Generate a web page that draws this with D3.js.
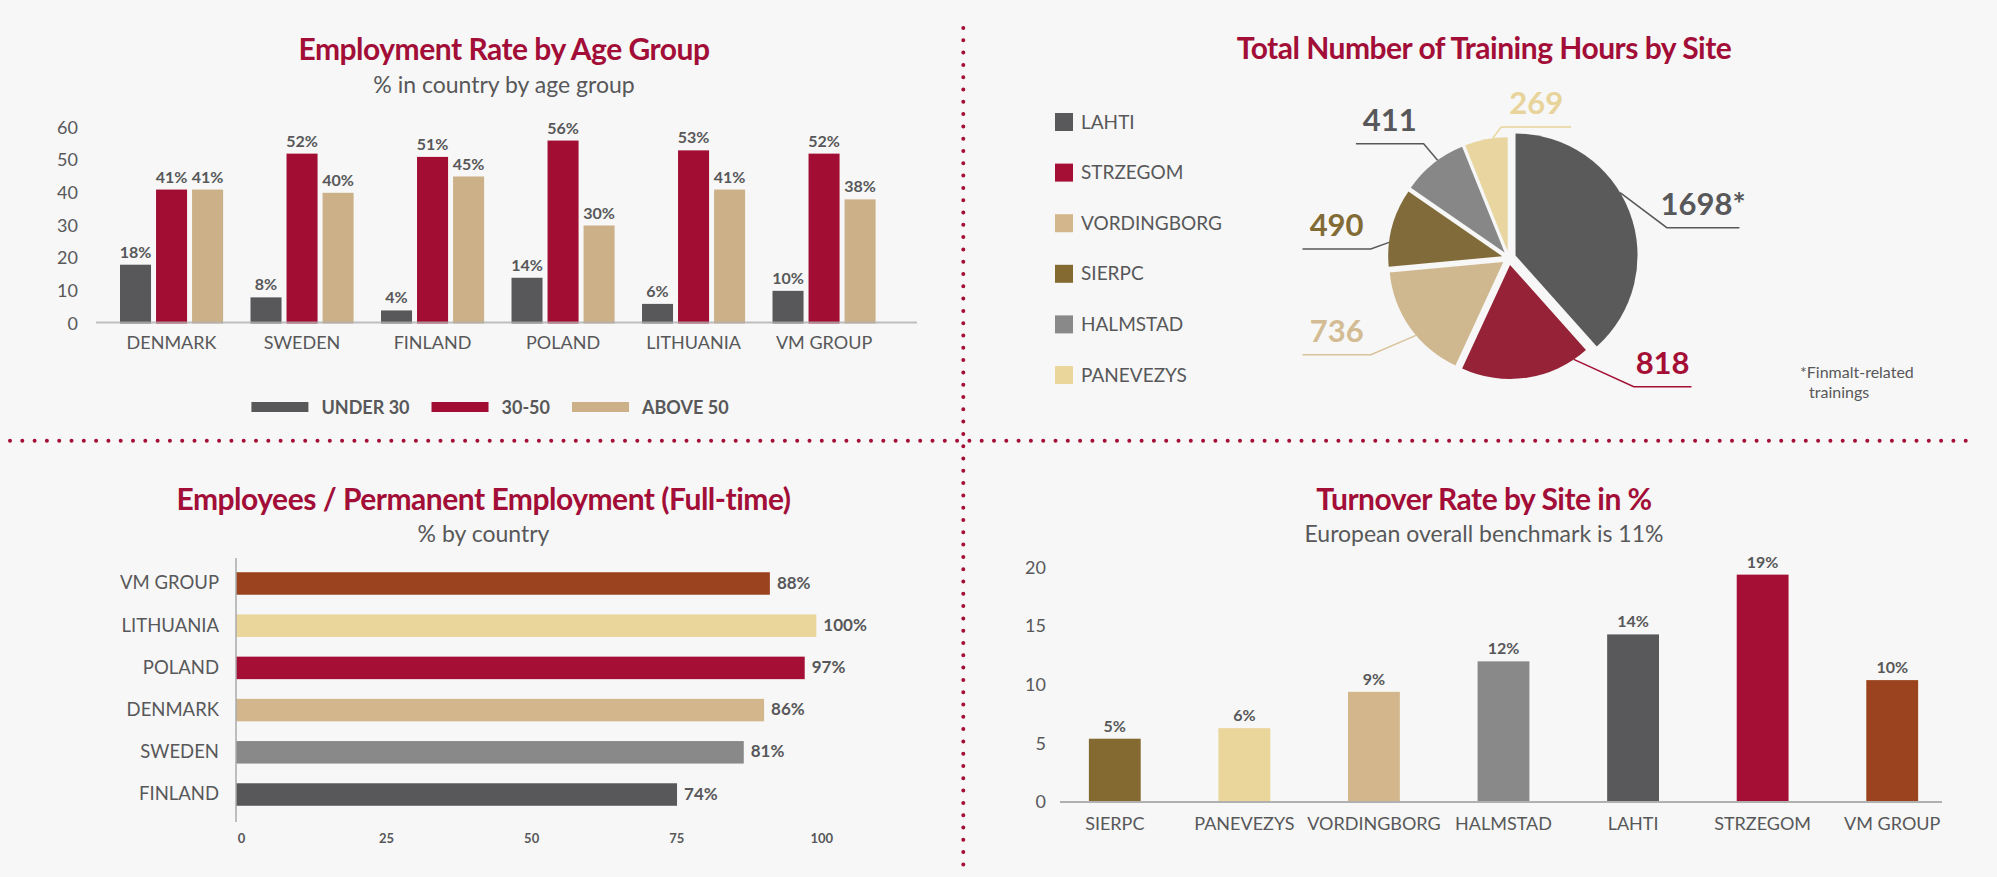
<!DOCTYPE html>
<html>
<head>
<meta charset="utf-8">
<script src="https://cdnjs.cloudflare.com/ajax/libs/d3/7.8.5/d3.min.js"></script>
<style>
body{margin:0;background:#f6f7f6;}
svg{display:block;font-family:Lato,"Open Sans",sans-serif;}
.title{font-weight:700;fill:#a20e37;letter-spacing:-0.5px;}
.sub{font-weight:400;fill:#58585a;}
</style>
</head>
<body>
<svg id="chart"></svg>
<script>
// Employment rate by age group
var countries=["DENMARK","SWEDEN","FINLAND","POLAND","LITHUANIA","VM GROUP"]
var ageGroups=["UNDER 30","30-50","ABOVE 50"]
var under30=[18,8,4,14,6,10]
var age30to50=[41,52,51,56,53,52]
var above50=[41,40,45,30,41,38]
var ageTicks=[0,10,20,30,40,50,60]

// training hours by site
var sites=["LAHTI","STRZEGOM","VORDINGBORG","SIERPC","HALMSTAD","PANEVEZYS"]
var trainingHours=[1698,818,736,490,411,269]
var hourLabels=["1698*","818","736","490","411","269"]

// permanent employment (bar lengths as drawn, labels as printed)
var permCountries=["VM GROUP","LITHUANIA","POLAND","DENMARK","SWEDEN","FINLAND"]
var permValues=[92,100,98,91,87.5,76]
var permLabels=["88%","100%","97%","86%","81%","74%"]
var permTicks=[0,25,50,75,100]

// turnover rate
var turnoverSites=["SIERPC","PANEVEZYS","VORDINGBORG","HALMSTAD","LAHTI","STRZEGOM","VM GROUP"]
var turnoverValues=[5.4,6.3,9.4,12,14.3,19.4,10.4]
var turnoverTicks=[0,5,10,15,20]

var textGray="#58585a"
var crimson="#a20d33"
var siteColors={"LAHTI":"#59595b","STRZEGOM":"#a50e35","VORDINGBORG":"#d3b68b","SIERPC":"#846a31",
  "HALMSTAD":"#898989","PANEVEZYS":"#ead59a","VM GROUP":"#9b431e"}
var countryColors={"VM GROUP":"#9b431e","LITHUANIA":"#ead59a","POLAND":"#a50e35","DENMARK":"#d3b68b",
  "SWEDEN":"#898989","FINLAND":"#58585a"}
var ageColors=["#58585a",crimson,"#cbb088"]

var svg=d3.select("#chart").attr("width",1997).attr("height",877)

svg.append("rect").attr("width",1997).attr("height",877).attr("fill","#f6f7f6")

//dotted dividers
svg.append("line").attr("x1",10).attr("x2",1975).attr("y1",440.7).attr("y2",440.7)
  .attr("stroke","#a50e35").attr("stroke-width",4).attr("stroke-linecap","round")
  .attr("stroke-dasharray","0,12.3")
svg.append("line").attr("x1",963.3).attr("x2",963.3).attr("y1",28).attr("y2",866)
  .attr("stroke","#a50e35").attr("stroke-width",4).attr("stroke-linecap","round")
  .attr("stroke-dasharray","0,12.3")

var addTitle=function(cx,y,title,sub,subY){
  svg.append("text").attr("class","title").attr("x",cx).attr("y",y)
    .attr("text-anchor","middle").style("font-size","30px").text(title)
  if(sub){
    svg.append("text").attr("class","sub").attr("x",cx).attr("y",subY)
      .attr("text-anchor","middle").style("font-size","23px").text(sub)
  }
}

var styleAxis=function(g,size,weight){
  g.select(".domain").remove()
  g.selectAll("text").style("font-size",size).style("font-weight",weight)
    .style("font-family","Lato, sans-serif").attr("fill",textGray)
}

//----- chart 1: grouped bars
var drawAgeChart=function(){
  addTitle(504,60,"Employment Rate by Age Group","% in country by age group",93)
  var series=[under30,age30to50,above50]
  var rows=countries.map(function(c,i){
    return {country:c,values:series.map(function(s,j){return {group:ageGroups[j],value:s[i],k:j}})}
  })
  var x0=d3.scaleBand().domain(countries).range([106.3,889.3]).paddingInner(0.21).paddingOuter(0.105)
  var x1=d3.scaleBand().domain(ageGroups).range([0,x0.bandwidth()]).paddingInner(0.139)
  var y=d3.scaleLinear().domain([0,60]).range([323.5,127.5])

  var g=svg.append("g")
  var grp=g.selectAll(".grp").data(rows).enter().append("g")
    .attr("transform",function(d){return "translate("+x0(d.country)+",0)"})
  grp.selectAll("rect").data(function(d){return d.values}).enter().append("rect")
    .attr("x",function(d){return x1(d.group)})
    .attr("width",x1.bandwidth())
    .attr("y",function(d){return y(d.value)})
    .attr("height",function(d){return y(0)-y(d.value)})
    .attr("fill",function(d){return ageColors[d.k]})
  grp.selectAll(".lbl").data(function(d){return d.values}).enter().append("text")
    .attr("x",function(d){return x1(d.group)+x1.bandwidth()/2})
    .attr("y",function(d){return y(d.value)-7})
    .attr("text-anchor","middle").style("font-size","16px").style("font-weight",700)
    .attr("fill",textGray).text(function(d){return d.value+"%"})

  g.append("line").attr("x1",96).attr("x2",917).attr("y1",y(0)-1).attr("y2",y(0)-1)
    .attr("stroke","#b0b0b0").attr("stroke-width",2).attr("opacity",0.8)

  var ya=g.append("g").attr("transform","translate(96,0)")
    .call(d3.axisLeft(y).tickValues(ageTicks).tickSize(0).tickPadding(18))
  styleAxis(ya,"18px",400)
  var xa=g.append("g").attr("transform","translate(0,"+y(0)+")")
    .call(d3.axisBottom(x0).tickSize(0).tickPadding(13))
  styleAxis(xa,"18px",400)

  //legend, centred under the chart
  var lg=g.append("g")
  var cursor=0
  ageGroups.forEach(function(a,i){
    lg.append("rect").attr("x",cursor).attr("y",402).attr("width",57).attr("height",10).attr("fill",ageColors[i])
    var t=lg.append("text").attr("x",cursor+70).attr("y",413.5).style("font-size","18px")
      .style("font-weight",700).attr("fill",textGray).text(a)
    cursor+=70+t.node().getComputedTextLength()+22
  })
  var lw=cursor-22
  lg.attr("transform","translate("+(490-lw/2)+",0)")
}

//----- chart 2: pie
var drawPie=function(){
  addTitle(1484,59,"Total Number of Training Hours by Site")
  var legend=svg.append("g")
  sites.forEach(function(s,i){
    legend.append("rect").attr("x",1055).attr("y",113+i*50.6).attr("width",18).attr("height",18)
      .attr("fill",siteColors[s])
    legend.append("text").attr("x",1081).attr("y",128.5+i*50.6).style("font-size","19px")
      .attr("fill",textGray).text(s)
  })

  var cx=1509,cy=258,explode=7
  var pieColors=["#5a5a5a","#952236","#cfb88f","#816b3a","#878787","#e8d59f"]
  var radii=[122,114,114,114,114,114]
  // leader line: angle on the arc, elbow offset, horizontal run, colours
  var callouts=[
    {angle:59,dx:46.7,dy:35,len:72.6,text:"#58585a",line:"#58585a"},
    {angle:146,dx:60,dy:27.3,len:57.7,text:"#a50e35",line:"#a50e35"},
    {angle:230,dx:-45,dy:19.4,len:-68.4,text:"#d3bc93",line:"#d9c39a"},
    {angle:277,dx:-18.3,dy:6.7,len:-68.3,text:"#836b36",line:"#58585a"},
    {angle:324,dx:-14,dy:-16.6,len:-67.7,text:"#58585a",line:"#58585a"},
    {angle:352.5,dx:8.4,dy:-11,len:70,text:"#e8d49b",line:"#e8d49b"}
  ]
  var pie=d3.pie().sort(null).value(function(d){return d})
  var arcs=pie(trainingHours)
  var g=svg.append("g")
  arcs.forEach(function(d,i){
    var mid=(d.startAngle+d.endAngle)/2
    var vx=cx+Math.sin(mid)*explode, vy=cy-Math.cos(mid)*explode
    var arc=d3.arc().innerRadius(0).outerRadius(radii[i])
    g.append("path").attr("d",arc(d)).attr("transform","translate("+vx+","+vy+")")
      .attr("fill",pieColors[i])
    var c=callouts[i]
    var a=c.angle*Math.PI/180
    var sx=vx+Math.sin(a)*radii[i], sy=vy-Math.cos(a)*radii[i]
    var ex=sx+c.dx, ey=sy+c.dy
    g.append("polyline").attr("points",[[sx,sy],[ex,ey],[ex+c.len,ey]].join(" "))
      .attr("fill","none").attr("stroke",c.line).attr("stroke-width",1.5)
    g.append("text").attr("x",ex+c.len/2).attr("y",ey-13).attr("text-anchor","middle")
      .style("font-size","31px").style("font-weight",700).attr("fill",c.text).text(hourLabels[i])
  })

  var note=svg.append("g").style("font-size","16px").attr("fill",textGray)
  note.append("text").attr("x",1800).attr("y",378).text("*Finmalt-related")
  note.append("text").attr("x",1809).attr("y",398).text("trainings")
}

//----- chart 3: horizontal bars
var drawPermanent=function(){
  addTitle(483.5,510,"Employees / Permanent Employment (Full-time)","% by country",541.7)
  var y=d3.scaleBand().domain(permCountries).range([562.4,815.6]).paddingInner(0.467).paddingOuter(0.233)
  var x=d3.scaleLinear().domain([0,100]).range([236,816.3])
  var g=svg.append("g")
  g.selectAll("rect").data(permCountries).enter().append("rect")
    .attr("x",x(0)).attr("y",function(d){return y(d)})
    .attr("width",function(d,i){return x(permValues[i])-x(0)})
    .attr("height",y.bandwidth())
    .attr("fill",function(d){return countryColors[d]})
  g.selectAll(".lbl").data(permCountries).enter().append("text")
    .attr("x",function(d,i){return x(permValues[i])+7})
    .attr("y",function(d){return y(d)+y.bandwidth()/2}).attr("dy","0.3em")
    .style("font-size","17px").style("font-weight",700).attr("fill",textGray)
    .text(function(d,i){return permLabels[i]})
  g.append("line").attr("x1",x(0)).attr("x2",x(0)).attr("y1",558).attr("y2",822)
    .attr("stroke","#aaaaaa").attr("stroke-width",1.5)
  var ya=g.append("g").attr("transform","translate("+x(0)+",0)")
    .call(d3.axisLeft(y).tickSize(0).tickPadding(17))
  styleAxis(ya,"18.5px",400)
  var xa=g.append("g").attr("transform","translate(0,822)")
    .call(d3.axisBottom(x).tickValues(permTicks).tickSize(0).tickPadding(12))
  styleAxis(xa,"13px",700)
  xa.selectAll("text").attr("dx",5)
}

//----- chart 4: turnover bars
var drawTurnover=function(){
  addTitle(1484,510,"Turnover Rate by Site in %","European overall benchmark is 11%",541.7)
  var x=d3.scaleBand().domain(turnoverSites).range([1050,1957]).paddingInner(0.6).paddingOuter(0.3)
  var y=d3.scaleLinear().domain([0,20]).range([802,567.6])
  var g=svg.append("g")
  g.selectAll("rect").data(turnoverSites).enter().append("rect")
    .attr("x",function(d){return x(d)}).attr("width",x.bandwidth())
    .attr("y",function(d,i){return y(turnoverValues[i])})
    .attr("height",function(d,i){return y(0)-y(turnoverValues[i])})
    .attr("fill",function(d){return siteColors[d]})
  g.selectAll(".lbl").data(turnoverSites).enter().append("text")
    .attr("x",function(d){return x(d)+x.bandwidth()/2})
    .attr("y",function(d,i){return y(turnoverValues[i])-7})
    .attr("text-anchor","middle").style("font-size","16px").style("font-weight",700)
    .attr("fill",textGray).text(function(d,i){return Math.round(turnoverValues[i])+"%"})
  g.append("line").attr("x1",1060).attr("x2",1942).attr("y1",y(0)).attr("y2",y(0))
    .attr("stroke","#b0b0b0").attr("stroke-width",2)
  var ya=g.append("g").attr("transform","translate(1060,0)")
    .call(d3.axisLeft(y).tickValues(turnoverTicks).tickSize(0).tickPadding(14))
  styleAxis(ya,"18px",400)
  var xa=g.append("g").attr("transform","translate(0,"+y(0)+")")
    .call(d3.axisBottom(x).tickSize(0).tickPadding(15))
  styleAxis(xa,"18px",400)
}

drawAgeChart()
drawPie()
drawPermanent()
drawTurnover()
</script>
</body>
</html>
